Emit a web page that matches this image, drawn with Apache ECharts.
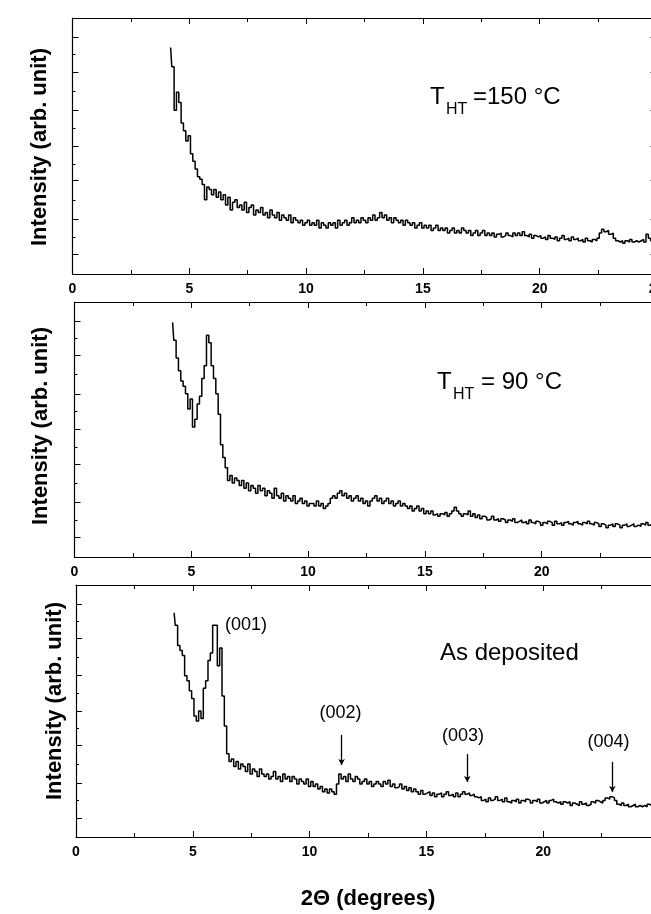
<!DOCTYPE html>
<html><head><meta charset="utf-8">
<script src="https://cdn.jsdelivr.net/npm/echarts@6/dist/echarts.min.js"></script>
<style>html,body{margin:0;padding:0;background:#fff}#c{width:651px;height:914px}</style>
</head><body><div id="c"></div>
<script>
// 2-theta sampling (degrees)
const xs = [
4.2,4.3,4.4,4.5,4.6,4.7,4.8,4.9,5.0,5.1,
5.2,5.3,5.4,5.5,5.6,5.7,5.8,5.9,6.0,6.1,
6.2,6.3,6.4,6.5,6.6,6.7,6.8,6.9,7.0,7.1,
7.2,7.3,7.4,7.5,7.6,7.7,7.8,7.9,8.0,8.1,
8.2,8.3,8.4,8.5,8.6,8.7,8.8,8.9,9.0,9.1,
9.2,9.3,9.4,9.5,9.6,9.7,9.8,9.9,10.0,10.1,
10.2,10.3,10.4,10.5,10.6,10.7,10.8,10.9,11.0,11.1,
11.2,11.3,11.4,11.5,11.6,11.7,11.8,11.9,12.0,12.1,
12.2,12.3,12.4,12.5,12.6,12.7,12.8,12.9,13.0,13.1,
13.2,13.3,13.4,13.5,13.6,13.7,13.8,13.9,14.0,14.1,
14.2,14.3,14.4,14.5,14.6,14.7,14.8,14.9,15.0,15.1,
15.2,15.3,15.4,15.5,15.6,15.7,15.8,15.9,16.0,16.1,
16.2,16.3,16.4,16.5,16.6,16.7,16.8,16.9,17.0,17.1,
17.2,17.3,17.4,17.5,17.6,17.7,17.8,17.9,18.0,18.1,
18.2,18.3,18.4,18.5,18.6,18.7,18.8,18.9,19.0,19.1,
19.2,19.3,19.4,19.5,19.6,19.7,19.8,19.9,20.0,20.1,
20.2,20.3,20.4,20.5,20.6,20.7,20.8,20.9,21.0,21.1,
21.2,21.3,21.4,21.5,21.6,21.7,21.8,21.9,22.0,22.1,
22.2,22.3,22.4,22.5,22.6,22.7,22.8,22.9,23.0,23.1,
23.2,23.3,23.4,23.5,23.6,23.7,23.8,23.9,24.0,24.1,
24.2,24.3,24.4,24.5,24.6,24.7,24.8,24.9,25.0
];
// Intensity, T_HT = 150 °C
const int150 = [
88.5,81,64,71,67,59,56,52,54,47,
44,41,38,37,35,29,34,33,31,33,
30,32,29,31,27,30,25,28,29,26,
27,25,28,24,26,27,23,25,24,26,
23,24,22,25,23,22,24,21,23,22,
21,23,20,22,21,20,21,19,20,21,
19,20,19,21,18,20,19,18,20,19,
20,18,21,19,20,21,19,20,22,20,
21,20,22,21,20,22,21,23,21,22,
24,22,23,21,22,20,22,21,20,21,
19,21,20,19,20,18,19,20,18,19,
18,19,17,18,19,17,18,17,18,16,
17,18,16,17,16,18,17,16,17,15,
16,17,15,16,17,15,16,15,16,14.5,
15.5,16,14.5,15,16,15,14.5,16,15,16,
15,16.5,15,14.5,15.5,14,15,14.5,15,14,
14.5,13.5,15,14,13.5,14.5,13,14,15,13.5,
14,13,14.5,13.5,14,13,13.5,12.5,14,13,
12.5,13.5,13,14,16,17.5,16.5,17,15.5,16,
14,13,12.5,13,12,13,12.5,13.5,12.5,13,
12.5,13,13.5,12.5,15.5,14,13,14.5,14
];
// Intensity, T_HT = 90 °C
const int90 = [
92,85,78,73,69,67,64,58,62,51,
54,60,63,70,75,87,84,75,70,64,
56,44,39,35,30,32,29,31,30,28,
30,27,29,26,28,27,25,28,26,27,
24,26,25,23,27,24,23,25,22,24,
23,22,24,21,22,23,21,22,20,21,
21,20,22,20,21,19,20,21,23,24,
23,25,26,24,25,23,24,22,23,24,
22,23,21,22,20,22,23,24,22,23,
21,22,23,21,22,20,21,22,20,21,
20,19,20,18,19,20,18,19,17,18,
17,18,16.5,17,16,17,16.5,17.5,16,17,
18,19.5,18,17,16,17,16.5,18,16,17,
15.5,16.5,15,16,15.5,14.5,15,16,14.5,15,
14,15,14.5,13.5,14.5,14,15,13.5,14,14.5,
13.5,14,13,14.5,13.5,13,14,13.5,12.5,13.5,
13,14,13.5,12.5,14,13,13.5,12.5,13.5,14,
13,12.5,13.5,14,13,12.5,13.5,13,14,13,
12.5,13.5,13,12,13,12.5,11.5,12.5,13,12,
13,12.5,11.5,12.5,13,12,12.5,13,12,12.5,
12,13,12.5,13.5,12.5,13,12.5,13,13.5
];
// Intensity, as deposited
const intAsDep = [
89,84,76,74,72,64,62,58,55,48,
46,50,47,59,62,70,73,84,84,68,
75,56,44,33,30,31,28,30,27,29,
28,26,29,25,27,26,24,27,25,24,
25,23,24,26,23,24,22,25,23,24,
22,24,23,21,23,22,21,23,20,22,
20,21,19,20,18,19,17.5,19,18,17,
21,25,23,24,22,25,23,22,24,23,
21,22,23,21,22,20,21,22,21,20,
22,21,22.5,20,21,19.5,20,21,19,20,
18.5,19.5,18,19,18,17,18.5,17,17.5,18,
16.5,17.5,16,17,17.5,16,17,18,16.5,17,
16,17.5,16,17,18,17,17.5,16.5,17,16,
15.5,16,14.5,15,14,15.5,14.5,15,16,14.5,
15,14,15.5,14,13.5,14.5,14,15,13.5,14.5,
14,15,14.5,13.5,14.5,14,15,13.5,14,14.5,
13.5,14.5,15,14,13.5,14,13,14,13.5,14,
12.5,13.5,13,12.5,14,13,13.5,12.5,13,14,
13.5,14.5,14,13.5,14.5,15.5,15,16,15.5,14.5,
13,12.5,13.5,12.5,13,12,12.5,13,12,12.5,
12,12.5,12,13,12.5,12,13,12.5,12
];
const xTickLabels = [0, 5, 10, 15, 20, 25];
const yTicks = [7.6, 21.5, 36.5, 50, 64, 79, 92.5];
const yMinorTicks = [14.5, 29, 43, 57, 71.5, 85.7];
const panelLabels = ['T_HT = 150 °C', 'T_HT = 90 °C', 'As deposited'];
const peakLabels = ['(001)', '(002)', '(003)', '(004)'];
// arrows pointing at reflections of the as-deposited film: [2theta, yFrom, yTo]
const peakArrows = [[11.37, 40.5, 28.6], [16.75, 32.9, 21.8], [22.96, 29.8, 17.9]];

const FF = '"Liberation Sans", Arial, sans-serif';
const grids = [
  {left: 72.5, top: 18, width: 584, height: 256, outerBoundsMode: 'none'},
  {left: 74.5, top: 302, width: 584, height: 255, outerBoundsMode: 'none'},
  {left: 76, top: 585, width: 584, height: 252, outerBoundsMode: 'none'}
];
const seriesData = [int150, int90, intAsDep];

const xAxis = [], yAxis = [], series = [];
grids.forEach((g, i) => {
  const baseX = {
    gridIndex: i, type: 'value', min: xTickLabels[0], max: xTickLabels[xTickLabels.length - 1], interval: 5,
    axisLine: {show: true, onZero: false, lineStyle: {color: '#000', width: 1.2}},
    axisTick: {show: true, inside: true, length: 6, lineStyle: {color: '#000', width: 1}},
    minorTick: {show: true, splitNumber: 2, length: 4, lineStyle: {color: '#000', width: 1}},
    splitLine: {show: false}, minorSplitLine: {show: false}
  };
  xAxis.push(Object.assign({}, baseX, {
    position: 'bottom',
    axisLabel: {show: true, margin: 8, color: '#000', fontSize: 14, fontWeight: 'bold', fontFamily: FF}
  }));
  xAxis.push(Object.assign({}, baseX, {position: 'top', axisLabel: {show: false}}));
  const baseY = {
    gridIndex: i, type: 'value', min: 0, max: 100,
    axisLabel: {show: false}, splitLine: {show: false}
  };
  yAxis.push(Object.assign({}, baseY, {
    position: 'left',
    axisLine: {show: true, onZero: false, lineStyle: {color: '#000', width: 1.2}},
    axisTick: {show: true, inside: true, length: 6, customValues: yTicks, lineStyle: {color: '#000', width: 1}}
  }));
  yAxis.push(Object.assign({}, baseY, {
    position: 'left',
    axisLine: {show: false},
    axisTick: {show: true, inside: true, length: 3, customValues: yMinorTicks, lineStyle: {color: '#000', width: 1}}
  }));
  yAxis.push(Object.assign({}, baseY, {
    position: 'right',
    axisLine: {show: true, onZero: false, lineStyle: {color: '#000', width: 1.2}},
    axisTick: {show: true, inside: true, length: 6, customValues: yTicks, lineStyle: {color: '#000', width: 1}}
  }));
  const s = {
    type: 'line', xAxisIndex: 2 * i, yAxisIndex: 3 * i,
    data: xs.map((x, k) => [x, seriesData[i][k]]),
    step: 'middle', showSymbol: false, symbol: 'none',
    lineStyle: {color: '#000', width: 1.5}, itemStyle: {color: '#000'},
    silent: true, animation: false
  };
  if (i === 2) {
    s.markLine = {
      silent: true, animation: false, symbol: ['none', 'arrow'], symbolSize: [5, 6],
      label: {show: false},
      lineStyle: {color: '#000', width: 1.3, type: 'solid'},
      data: peakArrows.map(a => [{coord: [a[0], a[1]]}, {coord: [a[0], a[2]]}])
    };
  }
  series.push(s);
});

const txt = (x, y, text, size, extra) => ({
  type: 'text', x: x, y: y, silent: true,
  style: {text: text, font: (extra && extra.weight ? extra.weight + ' ' : '') + size + 'px ' + FF,
    fill: '#000', textAlign: (extra && extra.align) || 'left', textVerticalAlign: 'middle'}
});
const yTitle = 'Intensity (arb. unit)';
const graphic = [
  Object.assign(txt(40, 147, yTitle, 22, {weight: 'bold', align: 'center'}), {rotation: Math.PI / 2}),
  Object.assign(txt(41, 426, yTitle, 22, {weight: 'bold', align: 'center'}), {rotation: Math.PI / 2}),
  Object.assign(txt(55, 701, yTitle, 22, {weight: 'bold', align: 'center'}), {rotation: Math.PI / 2}),
  // T_HT = 150 °C
  txt(430, 97, 'T', 24), txt(446, 110, 'HT', 16), txt(473, 97, '=150 °C', 24),
  // T_HT = 90 °C
  txt(437, 382, 'T', 24), txt(453, 395, 'HT', 16), txt(481, 382, '= 90 °C', 24),
  txt(440, 653, panelLabels[2], 24),
  txt(246, 625, peakLabels[0], 18, {align: 'center'}),
  txt(340.5, 713, peakLabels[1], 18, {align: 'center'}),
  txt(463, 736, peakLabels[2], 18, {align: 'center'}),
  txt(608.5, 742, peakLabels[3], 18, {align: 'center'}),
  txt(368, 899, '2Θ (degrees)', 22, {weight: 'bold', align: 'center'})
];

const chart = echarts.init(document.getElementById('c'), null, {renderer: 'canvas'});
chart.setOption({
  backgroundColor: '#fff',
  animation: false,
  grid: grids, xAxis: xAxis, yAxis: yAxis, series: series, graphic: graphic
});
</script></body></html>
